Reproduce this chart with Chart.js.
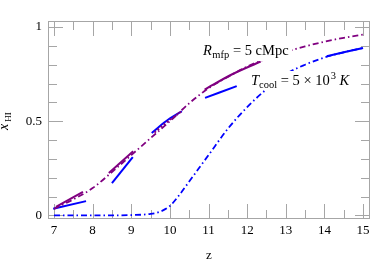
<!DOCTYPE html>
<html><head><meta charset="utf-8">
<script src="https://cdn.jsdelivr.net/npm/chart.js@4/dist/chart.umd.min.js"></script>
<style>html,body{margin:0;padding:0;background:#fff}canvas{display:block}</style>
</head><body>
<canvas id="c" width="374" height="265"></canvas>
<script>
// Tick labels
const xTicks = [7, 8, 9, 10, 11, 12, 13, 14, 15];
const yTicks = [0, 0.5, 1];
const yTickLabels = ['0', '0.5', '1'];

// R_mfp = 5 cMpc model curve (purple dot-dashed)
const rmfpZ = [7, 7.5, 8, 8.5, 9, 9.5, 10, 10.5, 11, 11.5, 12, 12.5, 13, 13.5, 14, 14.5, 15];
const rmfpX = [0.035, 0.085, 0.145, 0.23, 0.32, 0.41, 0.50, 0.595, 0.675, 0.735, 0.79, 0.832, 0.868, 0.897, 0.922, 0.943, 0.96];

// T_cool = 5e3 K model curve (blue dot-dashed)
const tcoolZ = [7, 7.5, 8, 8.5, 9, 9.5, 9.75, 10, 10.25, 10.5, 10.75, 11, 11.5, 12, 12.5, 13, 13.5, 14, 14.5, 15];
const tcoolX = [0, 0, 0, 0, 0.002, 0.008, 0.02, 0.05, 0.11, 0.18, 0.25, 0.32, 0.46, 0.575, 0.67, 0.75, 0.80, 0.838, 0.866, 0.889];

// Short simulation segments
const purpleSeg1 = [[7.05, 0.045], [7.75, 0.125]];
const purpleSeg2 = [[8.42, 0.225], [9.05, 0.34]];
const purpleSeg3 = [[10.9, 0.668], [11.6, 0.748], [12.35, 0.817]];
const purpleDots = [[9.6, 0.44], [9.95, 0.50], [10.3, 0.552]];
const blueSeg1 = [[6.98, 0.035], [7.83, 0.076]];
const blueSeg2 = [[8.5, 0.172], [9.04, 0.31]];
const blueSeg3 = [[9.53, 0.438], [9.9, 0.5], [10.31, 0.553]];
const blueSeg4 = [[10.91, 0.624], [11.73, 0.686]];
const blueSeg5 = [[14.06, 0.845], [15, 0.889]];

const PURPLE = '#800080', BLUE = '#0000ff';
const toPts = (xs, ys) => xs.map((x, i) => ({x: x, y: ys[i]}));
const segPts = s => s.map(p => ({x: p[0], y: p[1]}));
const dashDot = [6, 3, 1.5, 3];

function curve(data, color, dash, width) {
  return {data: data, borderColor: color, borderWidth: width, borderDash: dash,
          pointRadius: 0, fill: false, cubicInterpolationMode: 'monotone', borderCapStyle: 'butt'};
}

const datasets = [
  curve(toPts(tcoolZ, tcoolX), BLUE, dashDot, 1.8),
  curve(toPts(rmfpZ, rmfpX), PURPLE, dashDot, 1.8),
  curve(segPts(purpleSeg1), PURPLE, [], 2),
  curve(segPts(purpleSeg2), PURPLE, [], 2),
  curve(segPts(purpleSeg3), PURPLE, [], 2),
  curve(segPts(purpleDots), PURPLE, [2, 2], 2),
  curve(segPts(blueSeg1), BLUE, [], 2),
  curve(segPts(blueSeg2), BLUE, [], 2),
  curve(segPts(blueSeg3), BLUE, [], 2),
  curve(segPts(blueSeg4), BLUE, [], 2),
  curve(segPts(blueSeg5), BLUE, [], 2)
];

const SERIF = '"Liberation Serif", "DejaVu Serif", serif';

const framePlugin = {
  id: 'frame',
  beforeDatasetsDraw(chart) {
    const {ctx, chartArea: a, scales: {x, y}} = chart;
    ctx.save();
    ctx.strokeStyle = '#a6a6a6';
    ctx.lineWidth = 1;
    ctx.strokeRect(a.left + 0.5, a.top + 0.5, a.right - a.left - 1, a.bottom - a.top - 1);
    ctx.beginPath();
    for (let v = 7; v <= 15.001; v += 0.5) {
      const px = Math.round(x.getPixelForValue(v)) + 0.5;
      const major = Math.abs(v - Math.round(v)) < 1e-6;
      const L = major ? 15 : 9;
      ctx.moveTo(px, a.bottom); ctx.lineTo(px, a.bottom - L);
      ctx.moveTo(px, a.top); ctx.lineTo(px, a.top + L);
    }
    for (let i = 0; i <= 10; i++) {
      const v = i / 10;
      const py = Math.round(y.getPixelForValue(v)) + 0.5;
      const major = (i % 5 === 0);
      const L = major ? 15 : 9;
      ctx.moveTo(a.left, py); ctx.lineTo(a.left + L, py);
      ctx.moveTo(a.right, py); ctx.lineTo(a.right - L, py);
    }
    ctx.stroke();
    ctx.restore();
  },
  afterDraw(chart) {
    const ctx = chart.ctx;
    ctx.save();
    ctx.textBaseline = 'alphabetic';
    // white label backgrounds
    ctx.fillStyle = '#fff';
    ctx.fillRect(200, 42, 92, 19);
    ctx.fillRect(248, 71, 105, 19);
    ctx.fillStyle = '#000';
    // R_mfp = 5 cMpc
    let cx = 203, by = 54.5;
    ctx.font = 'italic 14.5px ' + SERIF; ctx.fillText('R', cx, by); cx += ctx.measureText('R').width + 0.5;
    ctx.font = '10.5px ' + SERIF; ctx.fillText('mfp', cx, by + 3); cx += ctx.measureText('mfp').width;
    ctx.font = '14.5px ' + SERIF; ctx.fillText(' = 5 cMpc', cx, by);
    // T_cool = 5 x 10^3 K
    cx = 251; by = 84.5;
    ctx.font = 'italic 14.5px ' + SERIF; ctx.fillText('T', cx, by); cx += ctx.measureText('T').width;
    ctx.font = '10.5px ' + SERIF; ctx.fillText('cool', cx, by + 3); cx += ctx.measureText('cool').width;
    ctx.font = '14.5px ' + SERIF; ctx.fillText(' = 5 \u00d7 10', cx, by); cx += ctx.measureText(' = 5 \u00d7 10').width;
    ctx.font = '10.5px ' + SERIF; ctx.fillText('3', cx + 1, by - 6); cx += ctx.measureText('3').width + 1;
    ctx.font = 'italic 14.5px ' + SERIF; ctx.fillText(' K', cx, by);
    // y-axis title: x-bar with subscript HI, rotated
    ctx.translate(8, 116);
    ctx.rotate(-Math.PI / 2);
    ctx.font = 'italic 14px ' + SERIF;
    const xw = ctx.measureText('x').width;
    ctx.fillText('x', -14, 0);
    ctx.fillRect(-14, -10, xw + 1, 1);
    ctx.font = '9px ' + SERIF;
    ctx.fillText('HI', -14 + xw + 2, 3);
    ctx.restore();
  }
};

new Chart(document.getElementById('c'), {
  type: 'line',
  data: {datasets: datasets},
  plugins: [framePlugin],
  options: {
    responsive: false,
    animation: false,
    devicePixelRatio: 1,
    layout: {padding: {top: 21, right: 4, left: 0, bottom: 0}},
    plugins: {legend: {display: false}, tooltip: {enabled: false}},
    scales: {
      x: {
        type: 'linear', min: 6.845, max: 15.18,
        afterBuildTicks: s => { s.ticks = xTicks.map(v => ({value: v})); },
        afterFit: s => { s.height = 46; },
        grid: {display: false, drawTicks: false},
        border: {display: false},
        ticks: {color: '#000', font: {family: SERIF, size: 13}, padding: 4, maxRotation: 0,
                callback: v => String(v)},
        title: {display: true, text: 'z', color: '#000', font: {family: SERIF, size: 13}, padding: {top: 0, bottom: 2}}
      },
      y: {
        type: 'linear', min: -0.019, max: 1.032,
        afterBuildTicks: s => { s.ticks = yTicks.map(v => ({value: v})); },
        afterFit: s => { s.width = 48; },
        grid: {display: false, drawTicks: false},
        border: {display: false},
        ticks: {color: '#000', font: {family: SERIF, size: 13}, padding: 6,
                callback: (v) => { const i = yTicks.indexOf(v); return i >= 0 ? yTickLabels[i] : ''; }}
      }
    }
  }
});
</script>
</body></html>
